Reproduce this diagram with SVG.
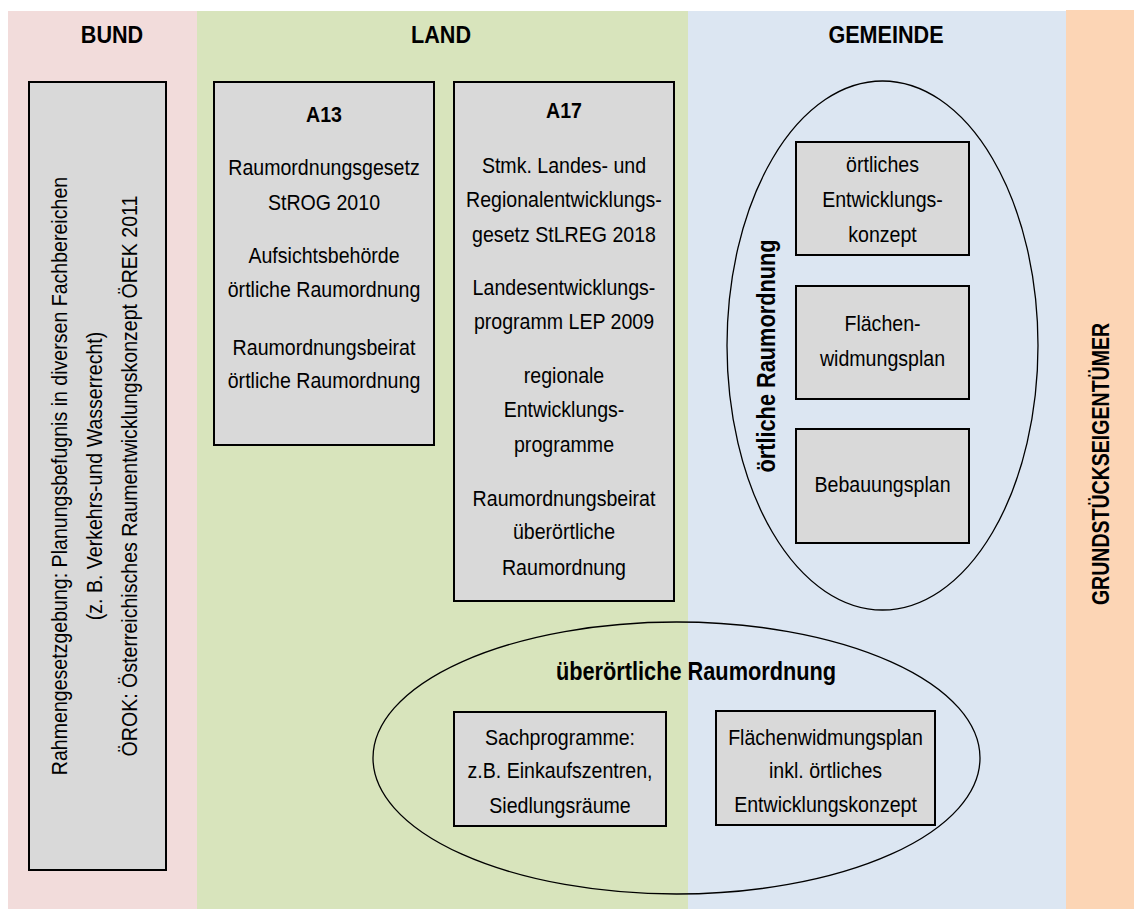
<svg xmlns="http://www.w3.org/2000/svg" width="1134" height="909" viewBox="0 0 1134 909">
<style>
.t{font-family:"Liberation Sans",Arial,sans-serif;font-size:22px;text-anchor:middle;fill:#000}
.h{font-family:"Liberation Sans",Arial,sans-serif;font-size:24px;font-weight:bold;text-anchor:middle;fill:#000}
.b{font-family:"Liberation Sans",Arial,sans-serif;font-size:25px;font-weight:bold;text-anchor:middle;fill:#000}
.box{fill:#D9D9D9;stroke:#000;stroke-width:2}
.ell{fill:none;stroke:#000;stroke-width:1.3}
</style>
<rect width="1134" height="909" fill="#fff"/>
<g id="bands">
<rect x="8" y="11" width="189" height="898" fill="#F2DCDB"/>
<rect x="197" y="11" width="491" height="898" fill="#D8E4BC"/>
<rect x="688" y="11" width="378" height="898" fill="#DCE6F2"/>
<rect x="1066" y="10" width="68" height="899" fill="#FCD5B5"/>
</g>
<g id="headers">
<g transform="translate(112 0) scale(0.9 1)"><text class="h" y="43">BUND</text></g>
<g transform="translate(441 0) scale(0.9 1)"><text class="h" y="43">LAND</text></g>
<g transform="translate(886 0) scale(0.9 1)"><text class="h" y="43">GEMEINDE</text></g>
<text class="h" font-size="23" transform="translate(1109 464) rotate(-90) scale(0.85 1)" style="font-size:23px">GRUNDSTÜCKSEIGENTÜMER</text>
</g>
<g id="bund">
<rect class="box" x="29" y="82" width="137" height="788"/>
<text class="t" transform="translate(67 476) rotate(-90) scale(0.89 1)">Rahmengesetzgebung: Planungsbefugnis in diversen Fachbereichen</text>
<text class="t" transform="translate(102 476) rotate(-90) scale(0.89 1)">(z. B. Verkehrs-und Wasserrecht)</text>
<text class="t" transform="translate(137 476) rotate(-90) scale(0.89 1)">ÖROK: Österreichisches Raumentwicklungskonzept ÖREK 2011</text>
</g>
<g id="a13">
<rect class="box" x="214" y="82" width="220" height="363"/>
<g transform="translate(324 0) scale(0.89 1)">
<text class="h" style="font-size:22px" y="122">A13</text>
<text class="t" y="175">Raumordnungsgesetz</text>
<text class="t" y="210">StROG 2010</text>
<text class="t" y="263">Aufsichtsbehörde</text>
<text class="t" y="297">örtliche Raumordnung</text>
<text class="t" y="355">Raumordnungsbeirat</text>
<text class="t" y="388">örtliche Raumordnung</text>
</g>
</g>
<g id="a17">
<rect class="box" x="454" y="82" width="220" height="519"/>
<g transform="translate(564 0) scale(0.89 1)">
<text class="h" style="font-size:22px" y="118">A17</text>
<text class="t" y="173">Stmk. Landes- und</text>
<text class="t" y="207">Regionalentwicklungs-</text>
<text class="t" y="242">gesetz StLREG 2018</text>
<text class="t" y="295">Landesentwicklungs-</text>
<text class="t" y="329">programm LEP 2009</text>
<text class="t" y="383">regionale</text>
<text class="t" y="417">Entwicklungs-</text>
<text class="t" y="452">programme</text>
<text class="t" y="506">Raumordnungsbeirat</text>
<text class="t" y="539">überörtliche</text>
<text class="t" y="575">Raumordnung</text>
</g>
</g>
<g id="oertliche">
<ellipse class="ell" cx="882.5" cy="345.5" rx="155.5" ry="264.5"/>
<text class="b" transform="translate(775 356) rotate(-90) scale(0.87 1)">örtliche Raumordnung</text>
</g>
<g id="oek">
<rect class="box" x="796" y="142" width="173" height="113"/>
<g transform="translate(882.5 0) scale(0.89 1)">
<text class="t" y="172">örtliches</text>
<text class="t" y="207">Entwicklungs-</text>
<text class="t" y="242">konzept</text>
</g>
</g>
<g id="fwp">
<rect class="box" x="796" y="286" width="173" height="113"/>
<g transform="translate(882.5 0) scale(0.89 1)">
<text class="t" y="331">Flächen-</text>
<text class="t" y="366">widmungsplan</text>
</g>
</g>
<g id="bbp">
<rect class="box" x="796" y="429" width="173" height="114"/>
<g transform="translate(882.5 0) scale(0.89 1)">
<text class="t" y="492">Bebauungsplan</text>
</g>
</g>
<g id="ueberoertliche">
<ellipse class="ell" cx="676.5" cy="758" rx="303.5" ry="136"/>
<g transform="translate(696 0) scale(0.87 1)"><text class="b" y="680">überörtliche Raumordnung</text></g>
</g>
<g id="sachprogramme">
<rect class="box" x="454" y="712" width="212" height="114"/>
<g transform="translate(560 0) scale(0.89 1)">
<text class="t" y="745">Sachprogramme:</text>
<text class="t" y="778">z.B. Einkaufszentren,</text>
<text class="t" y="813">Siedlungsräume</text>
</g>
</g>
<g id="fwp2">
<rect class="box" x="716" y="711" width="219" height="114"/>
<g transform="translate(825.5 0) scale(0.89 1)">
<text class="t" y="745">Flächenwidmungsplan</text>
<text class="t" y="778">inkl. örtliches</text>
<text class="t" y="812">Entwicklungskonzept</text>
</g>
</g>
<g id="connectors"></g>
</svg>
